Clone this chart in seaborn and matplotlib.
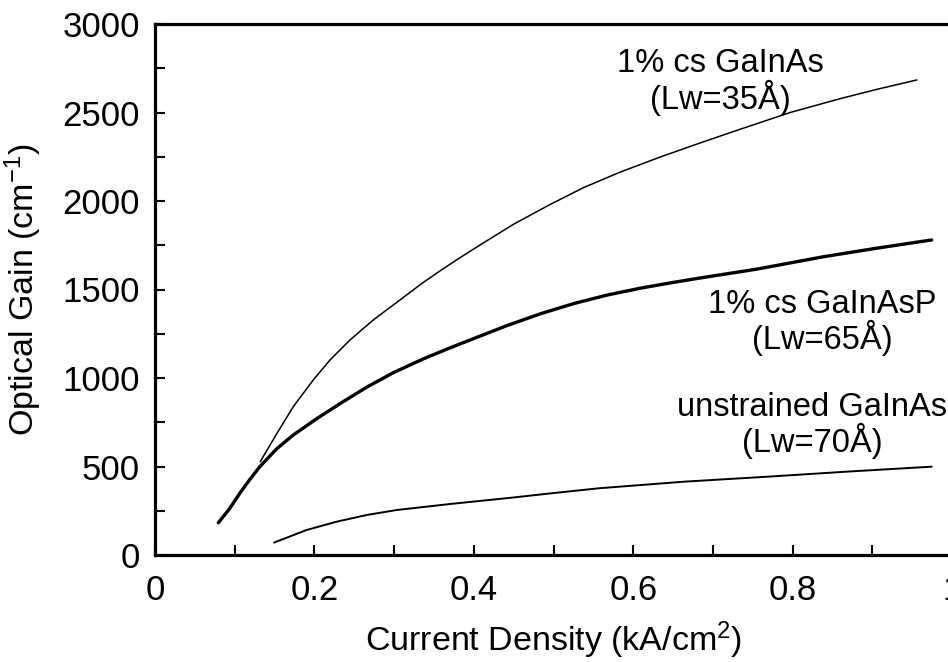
import matplotlib
matplotlib.use("Agg")
import matplotlib.pyplot as plt
import seaborn as sns
import pandas as pd
from matplotlib.ticker import MultipleLocator

# ---- data ----
# 1% cs GaInAs (Lw=35Å) -- thin line
x_gainas35 = [0.132, 0.153, 0.1735, 0.1986, 0.2196, 0.2447, 0.2739, 0.3074, 0.3366, 0.3576,
              0.3827, 0.408, 0.4496, 0.4956, 0.5374, 0.583, 0.6336, 0.684, 0.734, 0.797,
              0.8595, 0.905, 0.956]
g_gainas35 = [527, 687, 838, 989, 1102, 1215, 1328, 1441, 1540, 1605,
              1680, 1752, 1868, 1980, 2075, 2162, 2248, 2328, 2405, 2500,
              2578, 2630, 2684]

# 1% cs GaInAsP (Lw=65Å) -- thick line
x_gainasp65 = [0.0795, 0.0941, 0.1066, 0.1192, 0.1317, 0.1527, 0.1735, 0.2028, 0.236, 0.2656,
               0.299, 0.3366, 0.370, 0.3994, 0.441, 0.483, 0.525, 0.5667, 0.6085, 0.650,
               0.684, 0.755, 0.8386, 0.905, 0.9745]
g_gainasp65 = [182, 265, 350, 428, 500, 600, 678, 770, 866, 948,
               1030, 1108, 1170, 1222, 1295, 1362, 1420, 1468, 1507, 1540,
               1565, 1615, 1685, 1733, 1780]

# unstrained GaInAs (Lw=70Å)
x_unstr70 = [0.1493, 0.190, 0.2277, 0.2656, 0.303, 0.370, 0.45, 0.50, 0.557, 0.663,
             0.767, 0.872, 0.9745]
g_unstr70 = [70, 141, 188, 226, 254, 288, 325, 350, 377, 414,
             442, 472, 499]

x_ticks = [0, 0.2, 0.4, 0.6, 0.8, 1]
x_ticklabels = ["0", "0.2", "0.4", "0.6", "0.8", "1"]
y_ticks = [0, 500, 1000, 1500, 2000, 2500, 3000]

label_35 = "1% cs GaInAs\n(Lw=35Å)"
label_65 = "1% cs GaInAsP\n(Lw=65Å)"
label_70 = "unstrained GaInAs\n(Lw=70Å)"

sns.set_style("ticks")
plt.rcParams["font.family"] = ["Liberation Sans", "DejaVu Sans"]
plt.rcParams["mathtext.default"] = "regular"
plt.rcParams["text.color"] = "black"
plt.rcParams["axes.labelcolor"] = "black"

fig = plt.figure(figsize=(9.48, 6.62), dpi=100)
ax = fig.add_axes([155 / 948, 107 / 662, 797 / 948, 531 / 662])

df1 = pd.DataFrame({"x": x_gainas35, "g": g_gainas35})
df2 = pd.DataFrame({"x": x_gainasp65, "g": g_gainasp65})
df3 = pd.DataFrame({"x": x_unstr70, "g": g_unstr70})

sns.lineplot(data=df1, x="x", y="g", ax=ax, color="black", linewidth=1.1)
sns.lineplot(data=df2, x="x", y="g", ax=ax, color="black", linewidth=2.4)
sns.lineplot(data=df3, x="x", y="g", ax=ax, color="black", linewidth=1.4)

ax.set_xlim(0, 1)
ax.set_ylim(0, 3000)
ax.set_xticks(x_ticks)
ax.set_xticklabels(x_ticklabels)
ax.set_yticks(y_ticks)
ax.xaxis.set_minor_locator(MultipleLocator(0.1))
ax.yaxis.set_minor_locator(MultipleLocator(250))
ax.tick_params(axis="both", which="both", direction="in", length=7, width=1.5,
               labelsize=25, colors="black")
ax.tick_params(axis="x", which="both", pad=14)
ax.tick_params(axis="y", which="both", pad=11)

for s in ["left", "bottom", "top", "right"]:
    ax.spines[s].set_linewidth(2.3)
    ax.spines[s].set_color("black")

ax.set_xlabel("Current Density (kA/cm$^{2}$)", fontsize=24.5, labelpad=9, color="black")
ax.set_ylabel("Optical Gain (cm$^{-1}$)", fontsize=24.5, labelpad=13, color="black")

ax.text((720 - 155) / 797, 2672, label_35, ha="center", va="center",
        fontsize=23.5, linespacing=1.0, color="black")
ax.text((822 - 155) / 797, 1315, label_65, ha="center", va="center",
        fontsize=23.5, linespacing=1.0, color="black")
ax.text((812 - 155) / 797, 730, label_70, ha="center", va="center",
        fontsize=23.5, linespacing=1.0, color="black")

fig.savefig("out.png", dpi=100)
